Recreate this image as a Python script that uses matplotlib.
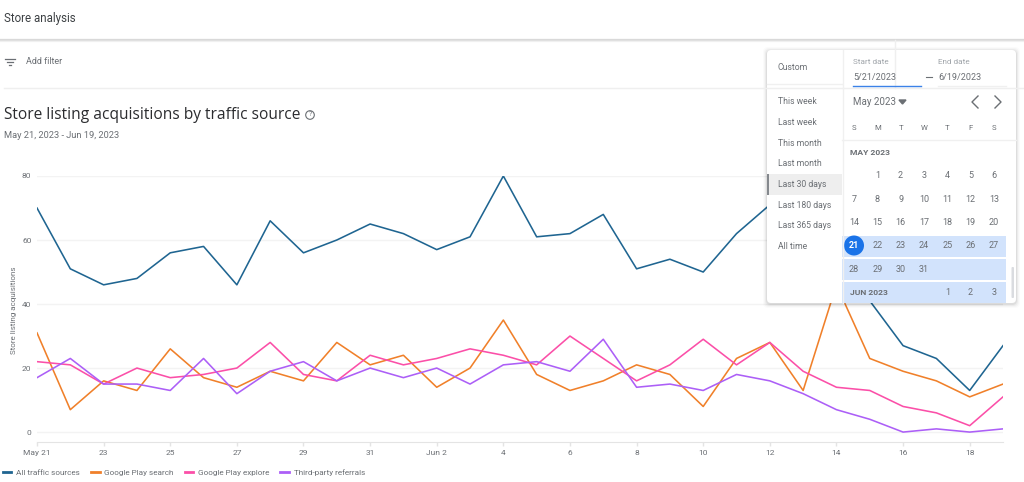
import matplotlib
matplotlib.use('Agg')
import matplotlib.pyplot as plt
from matplotlib.patches import FancyBboxPatch, Rectangle, Circle

plt.rcParams['font.family'] = ['Roboto', 'DejaVu Sans']

# chart data, one value per day from May 21 to Jun 19
all_traffic = [70, 51, 46, 48, 56, 58, 46, 66, 56, 60, 65, 62, 57, 61, 80, 61, 62, 68, 51, 54, 50, 62, 71, 68, 78, 41, 27, 23, 13, 27]
play_search = [31, 7, 16, 13, 26, 17, 14, 19, 16, 28, 21, 24, 14, 20, 35, 18, 13, 16, 21, 18, 8, 23, 28, 13, 46, 23, 19, 16, 11, 15]
play_explore = [22, 21, 15, 20, 17, 18, 20, 28, 18, 16, 24, 21, 23, 26, 24, 21, 30, 23, 16, 21, 29, 21, 28, 19, 14, 13, 8, 6, 2, 11]
third_party = [17, 23, 15, 15, 13, 23, 12, 19, 22, 16, 20, 17, 20, 15, 21, 22, 19, 29, 14, 15, 13, 18, 16, 12, 7, 4, 0, 1, 0, 1]
days = list(range(30))

tick_days = list(range(0, 30, 2))
tick_labels = ['May 21', '23', '25', '27', '29', '31', 'Jun 2', '4', '6', '8', '10', '12', '14', '16', '18']
y_ticks = [0, 20, 40, 60, 80]

range_options = ['This week', 'Last week', 'This month', 'Last month', 'Last 30 days', 'Last 180 days', 'Last 365 days', 'All time']
weekdays = ['S', 'M', 'T', 'W', 'T', 'F', 'S']

W, H = 1024, 482
GREY = '#6b6f74'
DARK = '#3c4043'
fig = plt.figure(figsize=(W / 100, H / 100), dpi=100)

# main chart, x from 37 to 1003 px, y = 80 at 176 px and axis line at 442 px
ax = fig.add_axes([37 / W, 1 - 442 / H, 966 / W, 266 / H])
ax.plot(days, all_traffic, color='#1f6591', lw=1.15, label='All traffic sources')
ax.plot(days, play_search, color='#f0802a', lw=1.15, label='Google Play search')
ax.plot(days, play_explore, color='#fb4fa8', lw=1.15, label='Google Play explore')
ax.plot(days, third_party, color='#ac5ff7', lw=1.15, label='Third-party referrals')
ax.set_xlim(0, 29)
ax.set_ylim(-3.1, 80)
ax.set_xticks(tick_days)
ax.set_xticklabels(tick_labels)
ax.set_yticks(y_ticks)
ax.grid(axis='y', color='#f3f3f3', lw=1)
ax.set_axisbelow(True)
for s in ['top', 'right', 'left']:
    ax.spines[s].set_visible(False)
ax.spines['bottom'].set_color('#e4e4e4')
ax.tick_params(axis='x', colors='#e4e4e4', length=3, width=1, labelsize=6.0, labelcolor=GREY, pad=3)
ax.tick_params(axis='y', length=0, labelsize=6.0, labelcolor=GREY, pad=4)

fig.legend(loc='lower left', bbox_to_anchor=(0 / W, 1 - 479 / H), ncol=4, frameon=False, fontsize=5.9,
           labelcolor=GREY, handlelength=1.0, handletextpad=0.6, columnspacing=1.35, borderpad=0.4,
           borderaxespad=0, handleheight=0.5)
for h in fig.legends[0].get_lines():
    h.set_linewidth(2.0)

# page chrome and date picker, in pixel coordinates
ui = fig.add_axes([0, 0, 1, 1], zorder=5)
ui.set_xlim(0, W)
ui.set_ylim(H, 0)
ui.axis('off')

ui.text(4, 18.5, 'Store analysis', fontsize=8.3, color=DARK, va='center')
for i, a in enumerate([0.13, 0.09, 0.04]):
    ui.plot([0, 1024], [38.5 + i, 38.5 + i], color='black', alpha=a, lw=1)
ui.plot([4, 1024], [87.5, 87.5], color='#efefef', lw=1)
ui.plot([895, 895], [40, 88], color='#efefef', lw=1)
for x0, x1, y in [(5, 15, 59), (7, 13, 62), (9, 11, 65)]:
    ui.plot([x0, x1], [y, y], color=GREY, lw=0.9)
ui.text(26, 62, 'Add filter', fontsize=6.5, color=GREY, va='center')

ui.text(4, 115, 'Store listing acquisitions by traffic source', fontsize=11.2, color='#2b2c2f', va='center', fontfamily='Open Sans')
ui.add_patch(Circle((310, 115), 4.3, fill=False, ec=GREY, lw=0.8))
ui.text(310, 115, '?', fontsize=5, color=GREY, ha='center', va='center')
ui.text(4, 136, 'May 21, 2023 - Jun 19, 2023', fontsize=6.7, color=GREY, va='center')
ui.text(14.5, 310, 'Store listing acquisitions', fontsize=5.8, color=GREY, rotation=90, ha='center', va='center')

# panel shadow then panel
for i, a in enumerate([0.015, 0.025, 0.04, 0.06]):
    d = 4 - i
    ui.add_patch(FancyBboxPatch((767 - d, 50 - d + 1), 249 + 2 * d, 253 + 2 * d, boxstyle='round,pad=0,rounding_size=5',
                                fc='black', ec='none', alpha=a))
ui.add_patch(FancyBboxPatch((767, 50), 249, 253, boxstyle='round,pad=0,rounding_size=4', fc='white', ec='none'))

ui.plot([842.5, 842.5], [50, 303], color='#f0f0f0', lw=1)
ui.plot([767, 842], [84, 84], color='#f0f0f0', lw=1)
ui.plot([842, 1016], [140, 140], color='#f0f0f0', lw=1)

ui.text(778, 67, 'Custom', fontsize=6.2, color=GREY, va='center')
ui.add_patch(Rectangle((767, 174), 75, 20.5, fc='#eeeeee', ec='none'))
ui.add_patch(Rectangle((767, 174), 2, 20.5, fc='#85898e', ec='none'))
for i, opt in enumerate(range_options):
    ui.text(778, 101.5 + i * 20.75, opt, fontsize=6.2, color=GREY, va='center')

ui.text(853, 62.5, 'Start date', fontsize=5.9, color='#a0a5aa', va='center')
ui.text(938, 62.5, 'End date', fontsize=5.9, color='#a0a5aa', va='center')
ui.text(853, 77.5, '5/21/2023', fontsize=6.5, color=GREY, va='center')
ui.text(938, 77.5, '6/19/2023', fontsize=6.5, color=GREY, va='center')
ui.plot([853, 921], [85.5, 85.5], color='#3b82e8', lw=1)
ui.plot([938, 1006], [85.5, 85.5], color='#f0f0f0', lw=1)
ui.plot([926, 932], [77, 77], color=GREY, lw=0.8)
ui.text(853, 102, 'May 2023', fontsize=7.0, color=GREY, va='center')
ui.fill([899, 906, 902.5], [100, 100, 104], color=GREY)
ui.plot([978, 972, 978], [96, 102, 108], color=GREY, lw=1)
ui.plot([995, 1001, 995], [96, 102, 108], color=GREY, lw=1)

col_x = [854, 877.3, 900.6, 924, 947.3, 970.6, 994]
for x, d in zip(col_x, weekdays):
    ui.text(x, 128, d, fontsize=5.6, color=GREY, ha='center', va='center')

ui.add_patch(Rectangle((842, 236), 164, 20.5, fc='#d2e3fc', ec='none'))
ui.add_patch(Rectangle((842, 259), 164, 20.5, fc='#d2e3fc', ec='none'))
ui.add_patch(Rectangle((842, 282), 164, 21, fc='#d2e3fc', ec='none'))
ui.add_patch(Circle((854, 245.5), 10, fc='#1a73e8', ec='none'))

ui.text(850, 152.5, 'MAY 2023', fontsize=6.1, color=GREY, va='center', fontweight='bold')
ui.text(850, 292.5, 'JUN 2023', fontsize=6.1, color=GREY, va='center', fontweight='bold')
rows = [(176, [None, 1, 2, 3, 4, 5, 6]), (199.5, [7, 8, 9, 10, 11, 12, 13]), (222.5, [14, 15, 16, 17, 18, 19, 20]),
        (246, [21, 22, 23, 24, 25, 26, 27]), (269.5, [28, 29, 30, 31, None, None, None]),
        (292.5, [None, None, None, None, 1, 2, 3])]
for y, row in rows:
    for x, d in zip(col_x, row):
        if d is not None:
            c = 'white' if d == 21 else GREY
            ui.text(x, y, str(d), fontsize=6.5, color=c, ha='center', va='center', fontweight='bold' if d == 21 else 'normal')
ui.add_patch(FancyBboxPatch((1011.5, 267), 2.5, 31, boxstyle='round,pad=0,rounding_size=1', fc='#dadce0', ec='none'))

fig.savefig('out.png', dpi=100)
